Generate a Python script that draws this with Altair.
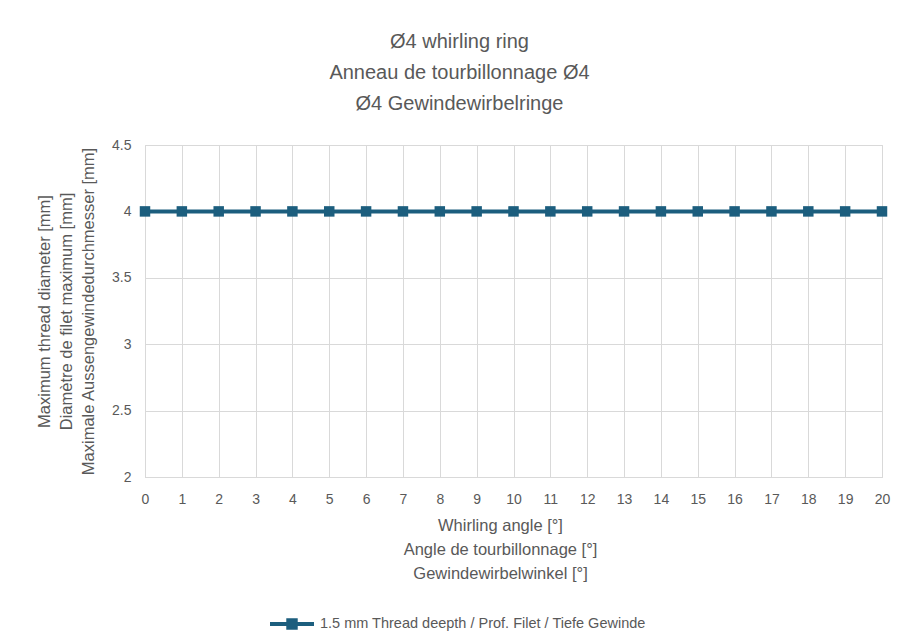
import altair as alt
import pandas as pd

angles = list(range(0, 21))
diameters = [4.0] * 21
series_name = "1.5 mm Thread deepth / Prof. Filet / Tiefe Gewinde"

df = pd.DataFrame({"angle": angles, "diameter": diameters, "series": [series_name] * len(angles)})

COLOR = "#1c5e7e"
GREY = "#595959"
FONT = "Liberation Sans"

legend_path = ("M-1,-0.09 L1,-0.09 L1,0.09 L-1,0.09 Z "
               "M-0.26,-0.26 L0.26,-0.26 L0.26,0.26 L-0.26,0.26 Z")

x = alt.X("angle:Q",
          scale=alt.Scale(domain=[0, 20], nice=False, zero=False),
          axis=alt.Axis(values=angles, title=["Whirling angle [°]", "Angle de tourbillonnage [°]", "Gewindewirbelwinkel [°]"],
                        titleX=355, titleY=40, titleBaseline="top", titleLineHeight=24,
                        labelPadding=15, labelFlush=False, ticks=False, domainColor="#d9d9d9"))
y = alt.Y("diameter:Q",
          scale=alt.Scale(domain=[2, 4.5], nice=False, zero=False),
          axis=alt.Axis(values=[2, 2.5, 3, 3.5, 4, 4.5], format="~g",
                        title=["Maximum thread diameter [mm]", "Diamètre de filet maximum [mm]", "Maximale Aussengewindedurchmesser [mm]"],
                        titleX=-101, titleY=166, titleBaseline="middle", titleAngle=270, titleLineHeight=22,
                        labelPadding=14, labelFlush=False, ticks=False, domainColor="#d9d9d9"))

line = alt.Chart(df).mark_line(color=COLOR, strokeWidth=4).encode(x=x, y=y)
pts = alt.Chart(df).mark_point(shape="square", filled=True, size=110, opacity=1).encode(
    x=x, y=y,
    color=alt.Color("series:N", scale=alt.Scale(range=[COLOR]),
                    legend=alt.Legend(title=None, orient="none", legendX=125, legendY=457,
                                      symbolType=legend_path, symbolSize=1936,
                                      symbolFillColor=COLOR, symbolStrokeWidth=0,
                                      labelFontSize=14.5, labelColor=GREY, labelFont=FONT,
                                      labelOffset=6, labelLimit=600)))

chart = alt.layer(line, pts).properties(
    width=737, height=332,
    autosize=alt.AutoSizeParams(type="none"),
    padding={"left": 137, "top": 137, "right": 12, "bottom": 159},
    title=alt.TitleParams(text=["Ø4 whirling ring", "Anneau de tourbillonnage Ø4", "Ø4 Gewindewirbelringe"],
                          fontSize=20, fontWeight="normal", color=GREY, font=FONT,
                          lineHeight=31, anchor="middle", dx=-54, offset=24),
).configure_view(stroke="#d9d9d9").configure_axis(
    gridColor="#d9d9d9", labelColor=GREY, labelFontSize=14, labelFont=FONT,
    titleColor=GREY, titleFontSize=16.5, titleFontWeight="normal", titleFont=FONT,
)

chart.save("out.html", embed_options={"renderer": "svg", "actions": False})
